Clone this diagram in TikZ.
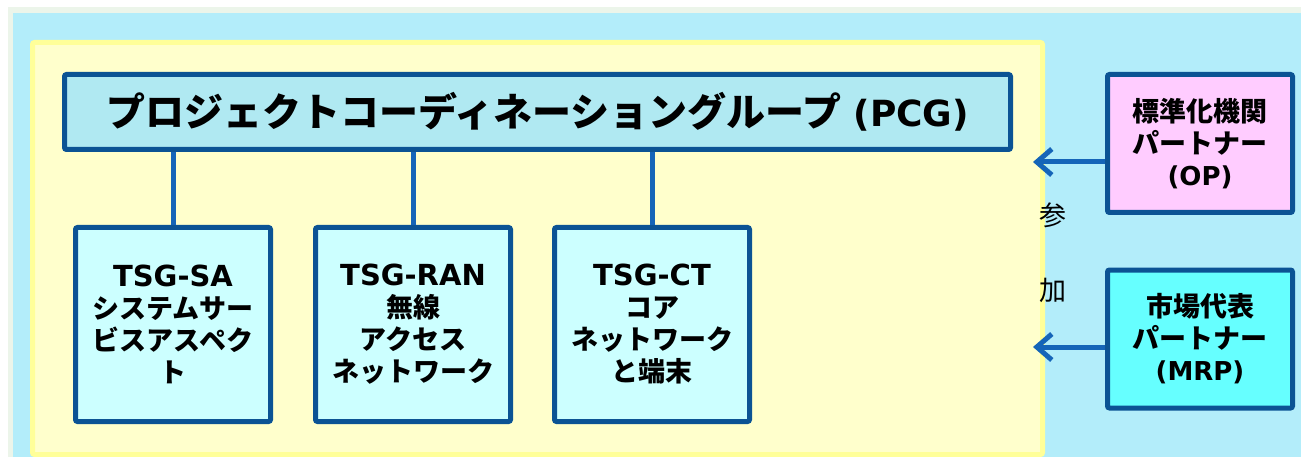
\documentclass[tikz,border=0pt]{standalone}
\usepackage{fontspec}
\setmainfont{DejaVu Sans}
\newfontfamily\jpfont{Noto Sans CJK JP}
\usetikzlibrary{arrows.meta}

\definecolor{edgegreen}{HTML}{ECF5EA}
\definecolor{skyback}{HTML}{B3EDFA}
\definecolor{panelline}{HTML}{FFFF99}
\definecolor{panelfill}{HTML}{FFFFCC}
\definecolor{boxline}{HTML}{0B5394}
\definecolor{pcgfill}{HTML}{B0E9F2}
\definecolor{tsgfill}{HTML}{CCFFFF}
\definecolor{opfill}{HTML}{FFCCFF}
\definecolor{mrpfill}{HTML}{66FFFF}
\definecolor{linkblue}{HTML}{1565B8}

\begin{document}
\begin{tikzpicture}[x=1pt,y=-1pt,
    box/.style={draw=boxline, line width=5pt, rounded corners=2pt, align=center,
      inner sep=0pt, text=black, font=\fontsize{27}{32}\selectfont\bfseries},
    tsgbox/.style={box, fill=tsgfill, minimum width=195pt, minimum height=194pt},
    partbox/.style={box, minimum width=185pt, minimum height=138pt},
    link/.style={draw=linkblue, line width=5pt}]
  \useasboundingbox (0,0) rectangle (1301,457);

  \fill[white] (0,0) rectangle (1301,457);
  \fill[edgegreen] (8,7) rectangle (1301,457);
  \fill[skyback] (13,13) rectangle (1301,457);
  \draw[panelline, line width=5pt, fill=panelfill, rounded corners=2pt]
    (32.5,42.5) rectangle (1042.5,454.5);

  \node[box, fill=pcgfill, minimum width=946pt, minimum height=75pt] (pcg) at (537.5,112)
    {{\jpfont\fontsize{39}{40}\selectfont プロジェクトコーディネーショングループ}\fontsize{36}{40}\selectfont\ (PCG)};

  \node[tsgbox] (sa) at (173,324.5)
    {{\fontsize{29}{32}\selectfont TSG-SA}\\ \jpfont システムサー\\ \jpfont ビスアスペク\\ \jpfont ト};
  \node[tsgbox] (ran) at (413,324.5)
    {{\fontsize{29}{32}\selectfont TSG-RAN}\\ \jpfont 無線\\ \jpfont アクセス\\ \jpfont ネットワーク};
  \node[tsgbox] (ct) at (652,324.5)
    {{\fontsize{29}{32}\selectfont TSG-CT}\\ \jpfont コア\\ \jpfont ネットワーク\\ \jpfont と端末};

  \draw[link] (pcg.south -| sa.north) -- (sa.north);
  \draw[link] (pcg.south -| ran.north) -- (ran.north);
  \draw[link] (pcg.south -| ct.north) -- (ct.north);

  \node[partbox, fill=opfill] (op) at (1200,143.5)
    {\jpfont 標準化機関\\ \jpfont パートナー\\ \fontsize{26}{32}\selectfont (OP)};
  \node[partbox, fill=mrpfill] (mrp) at (1200,339)
    {\jpfont 市場代表\\ \jpfont パートナー\\ \fontsize{26}{32}\selectfont (MRP)};

  \node[font=\jpfont\fontsize{27}{30}\selectfont] (join1) at (1053,215) {参};
  \node[font=\jpfont\fontsize{27}{30}\selectfont] (join2) at (1053,290) {加};

  \coordinate (optip) at (1033,162);
  \coordinate (mrptip) at (1033,347);
  \draw[link, -{Straight Barb[length=15pt,width=26pt]}] (op.west |- optip) -- (optip);
  \draw[link, -{Straight Barb[length=15pt,width=26pt]}] (mrp.west |- mrptip) -- (mrptip);

\end{tikzpicture}
\end{document}
